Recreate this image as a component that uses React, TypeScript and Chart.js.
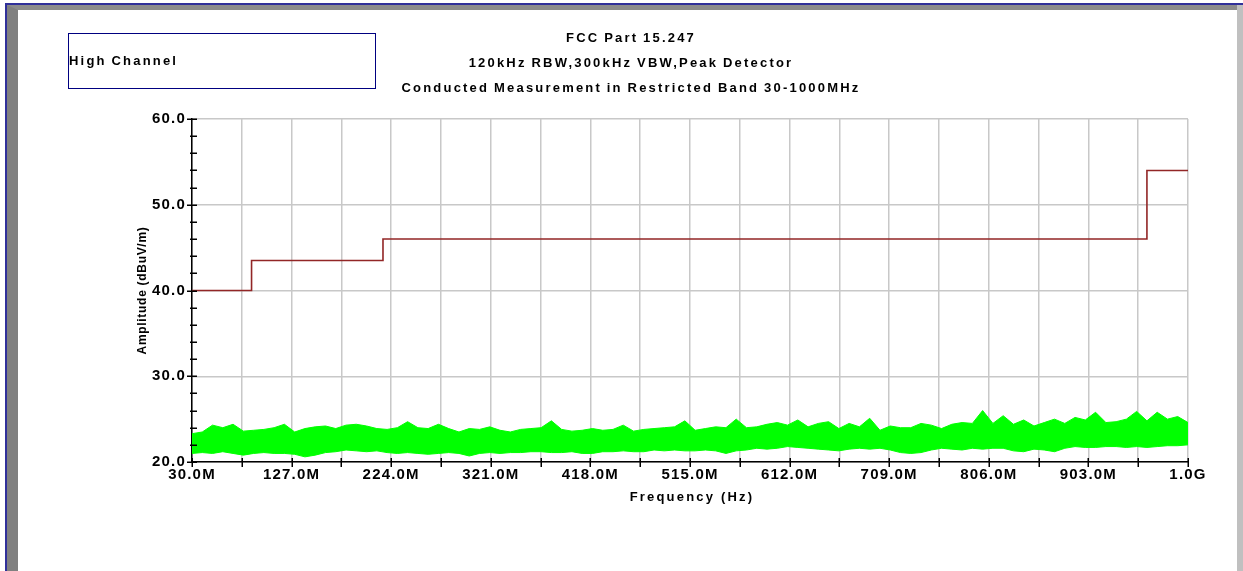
import { useEffect, useRef } from "react";
import { Chart, registerables } from "chart.js";

Chart.register(...registerables);

const FONT = "'Liberation Sans', Arial, Helvetica, sans-serif";

// Header texts
const titleLines = [
  "FCC Part 15.247",
  "120kHz RBW,300kHz VBW,Peak Detector",
  "Conducted Measurement in Restricted Band 30-1000MHz",
];
const traceLabel = "High Channel";
const xAxisTitle = "Frequency (Hz)";
const yAxisTitle = "Amplitude (dBuV/m)";

// Axis ranges and ticks (MHz / dBuV/m)
const freqMin = 30;
const freqMax = 1000;
const levelMin = 20;
const levelMax = 60;
const xMajorTicks = [30, 127, 224, 321, 418, 515, 612, 709, 806, 903, 1000];
const xMajorLabels = ["30.0M", "127.0M", "224.0M", "321.0M", "418.0M", "515.0M", "612.0M", "709.0M", "806.0M", "903.0M", "1.0G"];
const xMinorTicks = [78.5, 175.5, 272.5, 369.5, 466.5, 563.5, 660.5, 757.5, 854.5, 951.5];
const yMajorTicks = [20, 30, 40, 50, 60];
const yMajorLabels = ["20.0", "30.0", "40.0", "50.0", "60.0"];
const yMinorTicks = [22, 24, 26, 28, 32, 34, 36, 38, 42, 44, 46, 48, 52, 54, 56, 58];

// Limit line breakpoints (level holds from each frequency to the next)
const limitFreq = [30, 88, 216, 960, 1000];
const limitLevel = [40, 43.5, 46, 54, 54];

// Measured peak trace, max/min envelope per 10 MHz bin starting at 30 MHz
const noiseStartMHz = 30;
const noiseStepMHz = 10;
const noiseUpper = [
  23.3, 23.5, 24.3, 24.0, 24.4, 23.6, 23.7, 23.8, 24.0, 24.4, 23.5, 23.9, 24.1, 24.2, 23.9, 24.3, 24.4, 24.2, 23.9, 23.8, 24.0, 24.7, 24.0, 23.9, 24.4,
  23.9, 23.5, 23.9, 23.8, 24.1, 23.7, 23.5, 23.8, 23.9, 24.0, 24.8, 23.8, 23.6, 23.7, 23.9, 23.7, 23.8, 24.3, 23.6, 23.8, 23.9, 24.0, 24.1, 24.8,
  23.7, 23.9, 24.1, 24.0, 25.0, 24.0, 24.1, 24.4, 24.6, 24.3, 24.9, 24.1, 24.5, 24.7, 23.9, 24.5, 24.1, 25.1, 23.7, 24.2, 24.0, 24.0, 24.5, 24.3,
  23.9, 24.4, 24.6, 24.5, 26.0, 24.5, 25.4, 24.4, 24.9, 24.2, 24.6, 25.0, 24.5, 25.2, 24.9, 25.8, 24.6, 24.7, 25.0, 25.9, 24.8, 25.8, 25.0, 25.3, 24.6,
];
const noiseLower = [
  21.0, 21.1, 21.0, 21.2, 21.0, 20.8, 21.0, 21.1, 21.0, 21.0, 20.9, 20.6, 20.8, 21.1, 21.2, 21.4, 21.3, 21.2, 21.3, 21.1, 21.0, 21.1, 21.0, 20.9, 21.0,
  21.1, 21.0, 20.7, 21.0, 21.1, 21.0, 21.1, 21.1, 21.2, 21.2, 21.1, 21.1, 21.2, 21.0, 21.0, 21.2, 21.2, 21.3, 21.2, 21.2, 21.4, 21.3, 21.4, 21.3,
  21.3, 21.4, 21.3, 21.0, 21.3, 21.4, 21.6, 21.5, 21.6, 21.8, 21.7, 21.6, 21.5, 21.4, 21.3, 21.5, 21.6, 21.5, 21.6, 21.4, 21.1, 21.0, 21.1, 21.4,
  21.6, 21.5, 21.4, 21.6, 21.5, 21.6, 21.6, 21.3, 21.2, 21.5, 21.4, 21.2, 21.6, 21.8, 21.7, 21.7, 21.8, 21.8, 21.7, 21.8, 21.7, 21.8, 21.9, 21.9, 22.0,
];

const W = 1243;
const H = 571;
const Y_AXIS_WIDTH = 192;
const X_AXIS_HEIGHT = 60;

const limitColor = "#922626";
const traceColor = "#00ff00";
const gridColor = "#c8c8c8";

const sheetPlugin = {
  id: "sheet",
  beforeDraw(chart: any) {
    const { ctx } = chart;
    ctx.save();
    ctx.fillStyle = "#ffffff";
    ctx.fillRect(0, 0, W, H);

    // window frame: blue rule, grey bevel
    ctx.fillStyle = "#808080";
    ctx.fillRect(7, 5, 11, H);
    ctx.fillStyle = "#8c8c8c";
    ctx.beginPath();
    ctx.moveTo(7, 5);
    ctx.lineTo(1237, 5);
    ctx.lineTo(1237, 10);
    ctx.lineTo(18, 10);
    ctx.closePath();
    ctx.fill();
    ctx.fillStyle = "#c0c0c0";
    ctx.beginPath();
    ctx.moveTo(1237, 5);
    ctx.lineTo(W, 5);
    ctx.lineTo(W, H);
    ctx.lineTo(1237, H);
    ctx.lineTo(1237, 10);
    ctx.closePath();
    ctx.fill();
    ctx.fillStyle = "#30309a";
    ctx.fillRect(5, 3, W - 5, 2);
    ctx.fillRect(5, 3, 2, H);

    // trace label box
    ctx.strokeStyle = "#000080";
    ctx.lineWidth = 1;
    ctx.strokeRect(68.5, 33.5, 307, 55);

    ctx.fillStyle = "#000000";
    ctx.font = `bold 13px ${FONT}`;
    (ctx as any).letterSpacing = "2.2px";
    (ctx as any).wordSpacing = "-1px";
    ctx.textBaseline = "middle";
    ctx.textAlign = "left";
    ctx.fillText(traceLabel, 69, 61);

    ctx.textAlign = "center";
    const titleY = [38, 63, 88];
    titleLines.forEach((t, i) => ctx.fillText(t, 631, titleY[i]));
    ctx.restore();

    // spacing used by the tick labels drawn by the scales
    (ctx as any).letterSpacing = "1.2px";
    (ctx as any).wordSpacing = "0px";
  },
  afterDraw(chart: any) {
    const { ctx, chartArea } = chart;
    const xs = chart.scales.x;
    const ys = chart.scales.y;
    ctx.save();
    ctx.strokeStyle = "#000000";
    ctx.lineWidth = 1.5;
    ctx.beginPath();
    yMajorTicks.forEach((v) => {
      const y = Math.round(ys.getPixelForValue(v)) + 0.25;
      ctx.moveTo(chartArea.left - 5, y);
      ctx.lineTo(chartArea.left + 5, y);
    });
    yMinorTicks.forEach((v) => {
      const y = Math.round(ys.getPixelForValue(v)) + 0.25;
      ctx.moveTo(chartArea.left - 2, y);
      ctx.lineTo(chartArea.left + 5, y);
    });
    [...xMajorTicks, ...xMinorTicks].forEach((v) => {
      const x = Math.round(xs.getPixelForValue(v)) + 0.25;
      ctx.moveTo(x, chartArea.bottom - 4);
      ctx.lineTo(x, chartArea.bottom + 5);
    });
    ctx.stroke();

    ctx.fillStyle = "#000000";
    ctx.font = `bold 13px ${FONT}`;
    (ctx as any).letterSpacing = "2.2px";
    ctx.textAlign = "center";
    ctx.textBaseline = "middle";
    ctx.fillText(xAxisTitle, (chartArea.left + chartArea.right) / 2 + 2, 497);

    ctx.font = `bold 12px ${FONT}`;
    (ctx as any).letterSpacing = "0.7px";
    ctx.translate(143, (chartArea.top + chartArea.bottom) / 2);
    ctx.rotate(-Math.PI / 2);
    ctx.fillText(yAxisTitle, 0, 0);
    ctx.restore();
    (ctx as any).letterSpacing = "0px";
  },
};

export default function App() {
  const canvasRef = useRef<HTMLCanvasElement | null>(null);

  useEffect(() => {
    const canvas = canvasRef.current;
    if (!canvas) return;

    const noiseFreq = noiseUpper.map((_, i) => noiseStartMHz + i * noiseStepMHz);

    const chart = new Chart(canvas, {
      type: "line",
      data: {
        datasets: [
          {
            label: "Limit",
            data: limitFreq.map((f, i) => ({ x: f, y: limitLevel[i] })),
            borderColor: limitColor,
            borderWidth: 1.6,
            stepped: "before",
            pointRadius: 0,
            fill: false,
            order: 0,
          },
          {
            label: "Trace min",
            data: noiseLower.map((v, i) => ({ x: noiseFreq[i], y: v })),
            borderColor: traceColor,
            borderWidth: 1,
            pointRadius: 0,
            fill: false,
            order: 1,
          },
          {
            label: "Trace max",
            data: noiseUpper.map((v, i) => ({ x: noiseFreq[i], y: v })),
            borderColor: traceColor,
            backgroundColor: traceColor,
            borderWidth: 1,
            pointRadius: 0,
            fill: "-1",
            order: 1,
          },
        ],
      },
      options: {
        animation: false,
        responsive: false,
        devicePixelRatio: 1,
        layout: {
          padding: {
            left: 0,
            right: W - 1188,
            top: 119,
            bottom: H - 462 - X_AXIS_HEIGHT,
          },
        },
        plugins: {
          legend: { display: false },
          tooltip: { enabled: false },
          title: { display: false },
        },
        scales: {
          x: {
            type: "linear",
            min: freqMin,
            max: freqMax,
            afterBuildTicks: (scale: any) => {
              scale.ticks = [...xMajorTicks, ...xMinorTicks]
                .sort((a, b) => a - b)
                .map((v) => ({ value: v }));
            },
            afterFit: (scale: any) => {
              scale.height = X_AXIS_HEIGHT;
            },
            ticks: {
              autoSkip: false,
              maxRotation: 0,
              padding: 4,
              color: "#000000",
              font: { family: FONT, size: 15, weight: "bold" },
              callback: (value: any) => {
                const idx = xMajorTicks.indexOf(Number(value));
                return idx >= 0 ? xMajorLabels[idx] : "";
              },
            },
            grid: { color: gridColor, lineWidth: 1.5, drawTicks: false },
            border: { color: "#000000", width: 1.5 },
          },
          y: {
            type: "linear",
            min: levelMin,
            max: levelMax,
            afterBuildTicks: (scale: any) => {
              scale.ticks = yMajorTicks.map((v) => ({ value: v }));
            },
            afterFit: (scale: any) => {
              scale.width = Y_AXIS_WIDTH;
            },
            ticks: {
              padding: 6,
              color: "#000000",
              font: { family: FONT, size: 15, weight: "bold" },
              callback: (value: any) => {
                const idx = yMajorTicks.indexOf(Number(value));
                return idx >= 0 ? yMajorLabels[idx] : "";
              },
            },
            grid: { color: gridColor, lineWidth: 1.5, drawTicks: false },
            border: { color: "#000000", width: 1.5 },
          },
        },
      } as any,
      plugins: [sheetPlugin],
    });

    return () => chart.destroy();
  }, []);

  return (
    <div style={{ position: "absolute", left: 0, top: 0, width: W, height: H, background: "#ffffff" }}>
      <canvas ref={canvasRef} width={W} height={H} style={{ display: "block", width: W, height: H }} />
    </div>
  );
}
